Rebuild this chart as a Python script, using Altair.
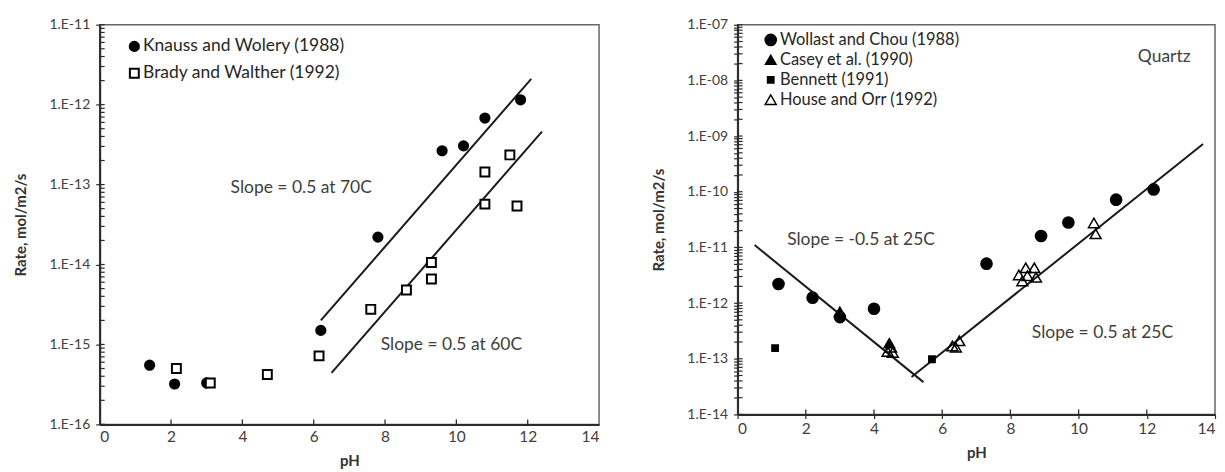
import altair as alt
import pandas as pd

# ---------------- data ----------------
# Left panel
kw_ph = [1.4, 2.1, 3.0, 6.2, 7.8, 9.6, 10.2, 10.8, 11.8]
kw_rate = [5.5e-16, 3.2e-16, 3.3e-16, 1.5e-15, 2.2e-14, 2.65e-13, 3.05e-13, 6.8e-13, 1.15e-12]
bw_ph = [2.15, 3.1, 4.7, 6.15, 7.6, 8.6, 9.3, 9.3, 10.8, 10.8, 11.5, 11.7]
bw_rate = [5.0e-16, 3.3e-16, 4.2e-16, 7.2e-16, 2.75e-15, 4.8e-15, 1.06e-14, 6.6e-15,
           1.44e-13, 5.7e-14, 2.35e-13, 5.4e-14]
left_series = ["Knauss and Wolery (1988)", "Brady and Walther (1992)"]
left_line_names = ["70C", "70C", "60C", "60C"]
left_line_ph = [6.2, 12.1, 6.5, 12.4]
left_line_rate = [2.0e-15, 2.1e-12, 4.4e-16, 4.6e-13]
left_notes = ["Slope = 0.5 at 70C", "Slope = 0.5 at 60C"]
left_note_ph = [5.65, 9.86]
left_note_rate = [9.0e-14, 9.7e-16]

# Right panel
wc_ph = [1.2, 2.2, 3.0, 4.0, 7.3, 8.9, 9.7, 11.1, 12.2]
wc_rate = [2.2e-12, 1.25e-12, 5.6e-13, 7.9e-13, 5.1e-12, 1.6e-11, 2.8e-11, 7.2e-11, 1.1e-10]
casey_ph = [3.0, 4.45]
casey_rate = [7.0e-13, 1.9e-13]
bennett_ph = [1.1, 5.7]
bennett_rate = [1.55e-13, 9.8e-14]
ho_ph = [4.4, 4.5, 4.55, 6.3, 6.4, 6.5, 8.25, 8.35, 8.45, 8.5, 8.7, 8.75, 10.45, 10.5]
ho_rate = [1.35e-13, 1.6e-13, 1.3e-13, 1.7e-13, 1.6e-13, 2.1e-13, 3.2e-12, 2.5e-12,
           4.3e-12, 3.1e-12, 4.3e-12, 2.9e-12, 2.75e-11, 1.75e-11]
right_series = ["Wollast and Chou (1988)", "Casey et al. (1990)", "Bennett (1991)",
                "House and Orr (1992)"]
right_line_names = ["acid", "acid", "base", "base"]
right_line_ph = [0.5, 5.45, 5.1, 13.65]
right_line_rate = [1.1e-11, 3.8e-14, 4.7e-14, 7.2e-10]
right_notes = ["Slope = -0.5 at 25C", "Slope = 0.5 at 25C", "Quartz"]
right_note_ph = [3.62, 10.70, 12.51]
right_note_rate = [1.36e-11, 2.94e-13, 2.67e-8]

x_ticks = [0, 2, 4, 6, 8, 10, 12, 14]
x_inner_ticks = [2, 4, 6, 8, 10, 12]
left_decades = [-16, -15, -14, -13, -12, -11]
right_decades = [-14, -13, -12, -11, -10, -9, -8, -7]
minor_mult = [2, 3, 4, 5, 6, 7, 8, 9]

# ---------------- styling ----------------
FONT = "Lato"
INK = "#2b2b2b"
LABEL = "#404040"

LABEL_EXPR = ("abs(log(datum.value)/LN10 - round(log(datum.value)/LN10)) < 0.01 ? "
              "'1.E-' + pad(toString(-round(log(datum.value)/LN10)), 2, '0', 'left') : ''")


def tick_values(decades):
    major = [10.0 ** d for d in decades]
    minor = [m * 10.0 ** d for d in decades[:-1] for m in minor_mult]
    return major, minor


def make_panel(points, lines, notes, decades, series, shapes, fills, sizes,
               width, height, legend, y_cross, x_cross, point_stroke):
    major, minor = tick_values(decades)
    ydom = [major[0], major[-1]]
    xs = alt.Scale(domain=[0, 14], nice=False)
    ys = alt.Scale(type="log", domain=ydom, nice=False)

    yvals = major + minor if y_cross else major
    xaxis = alt.Axis(values=x_ticks, title="pH", tickSize=4 if x_cross else 0,
                     labelPadding=3 if x_cross else 5, titlePadding=9)
    yaxis = alt.Axis(values=yvals, labelExpr=LABEL_EXPR, title="Rate, mol/m2/s",
                     tickSize=4, labelPadding=6, titlePadding=20)

    base_pts = alt.Chart(points).mark_point(opacity=1, strokeWidth=point_stroke)
    pts = base_pts.encode(
        x=alt.X("ph:Q", scale=xs, axis=xaxis),
        y=alt.Y("rate:Q", scale=ys, axis=yaxis),
        shape=alt.Shape("study:N", scale=alt.Scale(domain=series, range=shapes), legend=legend),
        fill=alt.Fill("study:N", scale=alt.Scale(domain=series, range=fills), legend=legend),
        stroke=alt.Stroke("study:N", scale=alt.Scale(domain=series, range=["black"] * len(series)),
                          legend=legend),
        size=alt.Size("study:N", scale=alt.Scale(type="ordinal", domain=series, range=sizes),
                      legend=legend),
    )
    ln = alt.Chart(lines).mark_line(color="#1a1a1a", strokeWidth=2).encode(
        x=alt.X("ph:Q", scale=xs), y=alt.Y("rate:Q", scale=ys), detail="name:N")
    txt = alt.Chart(notes).mark_text(font=FONT, fontSize=17.5, color=LABEL,
                                     align="center", baseline="middle").encode(
        x=alt.X("ph:Q", scale=xs), y=alt.Y("rate:Q", scale=ys), text="label:N")

    # inward-pointing ticks (minor + major) drawn at the axis values
    ytick_df = pd.DataFrame({"rate": major + minor})
    ytk = alt.Chart(ytick_df).mark_rule(color=INK, strokeWidth=1.2).encode(
        y=alt.Y("rate:Q", scale=ys), x=alt.value(0), x2=alt.value(5))
    xtick_df = pd.DataFrame({"ph": x_inner_ticks})
    xtk = alt.Chart(xtick_df).mark_rule(color=INK, strokeWidth=1.3).encode(
        x=alt.X("ph:Q", scale=xs), y=alt.value(height), y2=alt.value(height - 5))

    return alt.layer(ytk, xtk, ln, txt, pts).properties(width=width, height=height)


left_points = pd.DataFrame({
    "ph": kw_ph + bw_ph,
    "rate": kw_rate + bw_rate,
    "study": [left_series[0]] * len(kw_ph) + [left_series[1]] * len(bw_ph),
})
left_lines = pd.DataFrame({"name": left_line_names, "ph": left_line_ph, "rate": left_line_rate})
left_note_df = pd.DataFrame({"label": left_notes, "ph": left_note_ph, "rate": left_note_rate})

right_points = pd.DataFrame({
    "ph": wc_ph + casey_ph + bennett_ph + ho_ph,
    "rate": wc_rate + casey_rate + bennett_rate + ho_rate,
    "study": [right_series[0]] * len(wc_ph) + [right_series[1]] * len(casey_ph)
             + [right_series[2]] * len(bennett_ph) + [right_series[3]] * len(ho_ph),
})
right_lines = pd.DataFrame({"name": right_line_names, "ph": right_line_ph, "rate": right_line_rate})
right_note_df = pd.DataFrame({"label": right_notes, "ph": right_note_ph, "rate": right_note_rate})

left_legend = alt.Legend(title=None, orient="none", legendX=26, legendY=13, padding=0,
                         labelFont=FONT, labelFontSize=17.5, labelColor="#262626",
                         labelLimit=400, rowPadding=8, labelOffset=0,
                         symbolStrokeWidth=2, symbolOpacity=1)
right_legend = alt.Legend(title=None, orient="none", legendX=25, legendY=7, padding=0,
                          labelFont=FONT, labelFontSize=16.5, labelColor="#262626",
                          labelLimit=400, rowPadding=3, labelOffset=1,
                          symbolStrokeWidth=1.5, symbolOpacity=1)

left = make_panel(left_points, left_lines, left_note_df, left_decades, left_series,
                  ["circle", "square"], ["black", "white"], [85, 80],
                  501, 401, left_legend, False, False, 2)
right = make_panel(right_points, right_lines, right_note_df, right_decades, right_series,
                   ["circle", "triangle-up", "square", "triangle-up"],
                   ["black", "black", "black", "transparent"], [125, 110, 40, 120],
                   479, 391, right_legend, True, True, 1.5)

chart = alt.hconcat(left, right, spacing=50).resolve_scale(
    shape="independent", fill="independent", size="independent", stroke="independent",
    x="independent", y="independent"
).properties(
    padding={"top": 8, "left": 5, "right": 0, "bottom": 0}
).configure_view(
    stroke="#666666", strokeWidth=1.5
).configure_axis(
    domainColor=INK, domainWidth=2, tickColor=INK, tickWidth=1.2, grid=False,
    labelFont=FONT, labelFontSize=14, labelColor=LABEL,
    titleFont=FONT, titleFontSize=15, titleFontWeight="bold", titleColor="#333333"
).configure_axisX(
    labelFontSize=15.5
)

chart.save("out.html", embed_options={"renderer": "svg", "actions": False})
